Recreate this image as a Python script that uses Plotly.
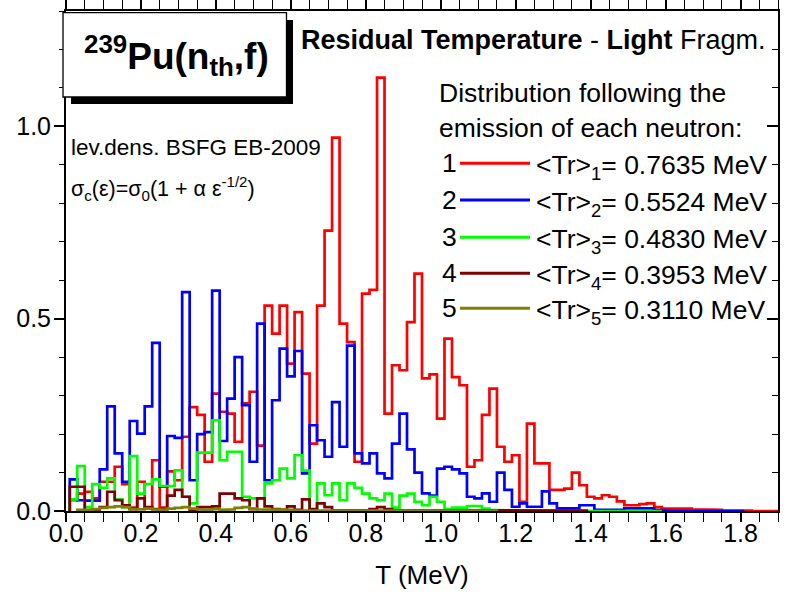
import plotly.graph_objects as go

# Residual temperature histograms (light fragment), bin width 0.02 MeV
bin_width = 0.02

# first bin centre of each distribution (MeV)
start_red = 0.02
start_blue = 0.02
start_green = 0.02
start_brown = 0.02
start_olive = 0.04

# probability per bin, neutron 1 .. 5
red = [0.028, 0.045, 0.05, 0.033, 0.076, 0.076, 0.115, 0.07, 0.009, 0.076,
       0.009, 0.132, 0.009, 0.103, 0.08, 0.193, 0.27, 0.25, 0.128, 0.305,
       0.258, 0.253, 0.18, 0.28, 0.31, 0.17, 0.534, 0.461, 0.534, 0.383,
       0.517, 0.357, 0.175, 0.534, 0.729, 0.971, 0.487, 0.439, 0.128, 0.565,
       0.575, 1.127, 0.253, 0.379, 0.366, 0.491, 0.617, 0.345, 0.355, 0.24,
       0.448, 0.348, 0.327, 0.115, 0.132, 0.25, 0.318, 0.167, 0.128, 0.145,
       0.024, 0.227, 0.124, 0.124, 0.055, 0.055, 0.058, 0.1, 0.067, 0.037,
       0.033, 0.041, 0.037, 0.025, 0.015, 0.015, 0.018, 0.02, 0.01, 0.006,
       0.006, 0.006, 0.006, 0.004, 0.004, 0.003, 0.003, 0.002, 0.002, 0.002,
       0.001, 0.0, 0.0, 0.0, 0.0]
blue = [0.082, 0.028, 0.027, 0.027, 0.108, 0.272, 0.15, 0.076, 0.234, 0.201,
        0.272, 0.437, 0.063, 0.195, 0.19, 0.569, 0.08, 0.2, 0.205, 0.573,
        0.182, 0.292, 0.40, 0.275, 0.128, 0.487, 0.08, 0.288, 0.422, 0.35,
        0.416, 0.098, 0.223, 0.184, 0.141, 0.283, 0.167, 0.43, 0.15, 0.124,
        0.15, 0.098, 0.085, 0.175, 0.253, 0.16, 0.10, 0.046, 0.04, 0.11,
        0.115, 0.108, 0.098, 0.037, 0.033, 0.046, 0.024, 0.1, 0.055, 0.011,
        0.02, 0.011, 0.011, 0.051, 0.02, 0.007, 0.007, 0.007, 0.015, 0.015,
        0.003, 0.003, 0.003, 0.003, 0.007, 0.007, 0.007, 0.007, 0.003, 0.002,
        0.0, 0.0, 0.0, 0.0, 0.0, 0.0, 0.0, 0.0, 0.0, 0.0]
green = [0.03, 0.117, 0.01, 0.07, 0.06, 0.085, 0.03, 0.01, 0.143, 0.045,
         0.07, 0.082, 0.065, 0.065, 0.106, 0.037, 0.02, 0.152, 0.152, 0.236,
         0.132, 0.154, 0.154, 0.037, 0.033, 0.033, 0.072, 0.08, 0.11, 0.085,
         0.145, 0.105, 0.003, 0.072, 0.041, 0.072, 0.028, 0.072, 0.06, 0.045,
         0.033, 0.028, 0.045, 0.009, 0.04, 0.045, 0.024, 0.015, 0.037, 0.024,
         0.005, 0.009, 0.009, 0.013, 0.013, 0.006, 0.003, 0.002, 0.0, 0.0,
         0.0, 0.0, 0.0, 0.0, 0.0, 0.0, 0.0, 0.0, 0.0, 0.0,
         0.0, 0.0, 0.0, 0.0, 0.0, 0.0, 0.0, 0.0, 0.0]
brown = [0.063, 0.063, 0.0, 0.0, 0.01, 0.05, 0.028, 0.015, 0.005, 0.033,
         0.01, 0.005, 0.005, 0.04, 0.055, 0.037, 0.003, 0.01, 0.01, 0.012,
         0.045, 0.045, 0.033, 0.028, 0.005, 0.033, 0.012, 0.005, 0.003, 0.012,
         0.003, 0.03, 0.005, 0.02, 0.01, 0.002, 0.002, 0.002, 0.002, 0.002,
         0.005, 0.01, 0.005, 0.002, 0.002, 0.002, 0.002, 0.002, 0.002, 0.002,
         0.001, 0.001, 0.001, 0.001, 0.001, 0.001, 0.001, 0.001, 0.001, 0.001,
         0.001, 0.001, 0.001, 0.001, 0.001, 0.001, 0.001, 0.001, 0.001]
olive = [0.003, 0.003, 0.005, 0.008, 0.01, 0.012, 0.01, 0.005, 0.004, 0.006,
         0.004, 0.003, 0.006, 0.008, 0.01, 0.006, 0.004, 0.003, 0.005, 0.003,
         0.004, 0.008, 0.01, 0.006, 0.004, 0.003, 0.003, 0.004, 0.003, 0.002,
         0.002, 0.002, 0.002, 0.002, 0.002, 0.002, 0.002, 0.002, 0.002, 0.002,
         0.002, 0.001, 0.001, 0.001, 0.001, 0.001, 0.001, 0.001, 0.001, 0.001,
         0.001, 0.001, 0.001, 0.001, 0.001, 0.001]

neutron_ids = ["1", "2", "3", "4", "5"]
mean_tr = ["0.7635", "0.5524", "0.4830", "0.3953", "0.3110"]
colors = ["#ff0000", "#0000ff", "#00ff00", "#800000", "#808000"]

series = [(start_red, red), (start_blue, blue), (start_green, green),
          (start_brown, brown), (start_olive, olive)]


def step_outline(first_center, heights):
    """Histogram outline: horizontal over each bin, vertical at the edges."""
    left0 = first_center - bin_width / 2
    xs, ys = [left0], [0.0]
    for i, h in enumerate(heights):
        lo = left0 + i * bin_width
        xs += [lo, lo + bin_width]
        ys += [h, h]
    xs.append(xs[-1])
    ys.append(0.0)
    return xs, ys


fig = go.Figure()
for (c0, vals), col in zip(series, colors):
    xs, ys = step_outline(c0, vals)
    fig.add_trace(go.Scatter(x=xs, y=ys, mode="lines",
                             line=dict(color=col, width=2.7),
                             showlegend=False, hoverinfo="skip"))

# companion axis carrying the inward ticks on the right-hand frame
fig.add_trace(go.Scatter(x=[None], y=[None], yaxis="y2", showlegend=False,
                         hoverinfo="skip"))

FONT = "Liberation Sans, Arial, sans-serif"

# plot-area geometry in pixels (for placing the annotations)
L, R, T, B = 66, 778, 11, 511


def px(x):
    return (x - L) / (R - L)


def py(y):
    return (B - y) / (B - T)


fig.update_layout(
    width=792, height=594,
    margin=dict(l=L, r=792 - R, t=T, b=594 - B),
    paper_bgcolor="white", plot_bgcolor="white",
    font=dict(family=FONT, color="black", size=23),
    xaxis=dict(range=[0, 1.9], showgrid=False, zeroline=False,
               automargin=False,
               showline=True, linecolor="black", linewidth=2,
               ticks="outside", ticklen=9, tickwidth=1.5, tickcolor="black",
               tick0=0, dtick=0.2, tickformat=".1f",
               ticklabelstandoff=-10,
               minor=dict(dtick=0.05, ticks="outside", ticklen=5,
                          tickwidth=1.3, tickcolor="black"),
               mirror="allticks",
               title=dict(text="T (MeV)", font=dict(size=26), standoff=20),
               tickfont=dict(size=25)),
    yaxis=dict(range=[0, 1.3], showgrid=False, zeroline=False,
               automargin=False,
               showline=True, linecolor="black", linewidth=2,
               ticks="outside", ticklen=10, tickwidth=1.5, tickcolor="black",
               tick0=0, dtick=0.5, tickformat=".1f",
               ticklabelstandoff=-2,
               minor=dict(dtick=0.1, ticks="outside", ticklen=5,
                          tickwidth=1.3, tickcolor="black"),
               tickfont=dict(size=25)),
    yaxis2=dict(range=[0, 1.3], overlaying="y", side="right",
                automargin=False,
                showgrid=False, zeroline=False, showticklabels=False,
                showline=True, linecolor="black", linewidth=2,
                ticks="inside", ticklen=11, tickwidth=1.5, tickcolor="black",
                tick0=0, dtick=0.5,
                minor=dict(dtick=0.1, ticks="inside", ticklen=6,
                           tickwidth=1.3, tickcolor="black")),
)

shapes = [
    # shadowed reaction label box
    dict(type="rect", xref="paper", yref="paper",
         x0=px(71), x1=px(293), y0=py(104), y1=py(20),
         fillcolor="black", line=dict(width=0), layer="above"),
    dict(type="rect", xref="paper", yref="paper",
         x0=px(63), x1=px(286.5), y0=py(97), y1=py(12.7),
         fillcolor="white", line=dict(color="black", width=1.3),
         layer="above"),
]

annotations = [
    dict(text="<b><sup>239</sup>Pu(n<sub>th</sub>,f)</b>",
         x=px(176), y=py(56), xanchor="center", font=dict(size=37)),
    dict(text="<b>Residual Temperature</b> - <b>Light</b> Fragm.",
         x=px(299), y=py(40), xanchor="left", font=dict(size=27)),
    dict(text="lev.dens. BSFG EB-2009", x=px(69), y=py(147),
         xanchor="left", font=dict(size=22.5)),
    dict(text="σ<sub>c</sub>(ε)=σ<sub>0</sub>(1 + α ε<sup>-1/2</sup>)",
         x=px(69), y=py(188), xanchor="left", font=dict(size=21.5)),
    dict(text="Distribution following the", x=px(437), y=py(93),
         xanchor="left", font=dict(size=26.5)),
    dict(text="emission of each neutron:", x=px(437), y=py(128),
         xanchor="left", font=dict(size=26.5)),
]

row_y = [163.3, 200, 237.3, 273.3, 308.3]
for nid, tr, col, yy in zip(neutron_ids, mean_tr, colors, row_y):
    shapes.append(dict(type="line", xref="paper", yref="paper",
                       x0=px(460), x1=px(530), y0=py(yy), y1=py(yy),
                       line=dict(color=col, width=3), layer="above"))
    annotations.append(dict(text=nid, x=px(440), y=py(yy), xanchor="left",
                            font=dict(size=26.5)))
    annotations.append(dict(text=f"<Tr><sub>{nid}</sub>= {tr} MeV",
                            x=px(534), y=py(yy), xanchor="left",
                            yanchor="middle", yshift=-4,
                            font=dict(size=26.5)))

for a in annotations:
    a.setdefault("xref", "paper")
    a.setdefault("yref", "paper")
    a.setdefault("showarrow", False)
    a.setdefault("yanchor", "middle")

fig.update_layout(shapes=shapes, annotations=annotations)

fig.write_html("out.html")
